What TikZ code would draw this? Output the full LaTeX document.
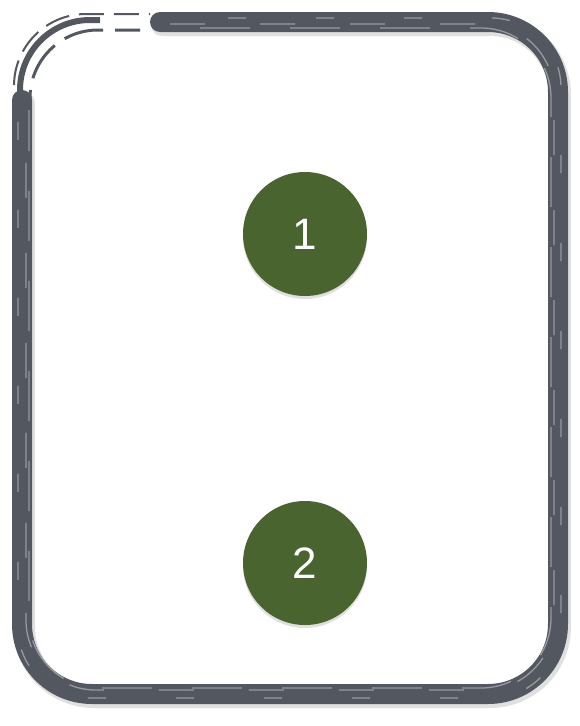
\documentclass[tikz,border=0pt]{standalone}
\usepackage{xcolor}
\usepackage{fontspec}
\setmainfont{Liberation Sans}
\usepackage{tikz}
\usetikzlibrary{shadows,positioning}

\definecolor{brushgray}{HTML}{53575F}
\definecolor{badgegreen}{HTML}{4A6430}

\begin{document}
\begin{tikzpicture}[x=1pt,y=1pt,
      brush/.style={draw=brushgray,line width=20pt,rounded corners=70pt,line cap=round},
      streak/.style={draw=white,opacity=0.4,line width=1.3pt,rounded corners=70pt},
      badge/.style={circle,fill=badgegreen,minimum size=124pt,inner sep=0pt,
        text=white,font=\fontsize{44}{44}\selectfont,
        drop shadow={shadow xshift=0pt,shadow yshift=-3pt,opacity=0.25}}
      ]
      \useasboundingbox (0,0) rectangle (580,-726);

      % frame, painted with a brush
      \draw[brush,draw=black,opacity=0.12,line width=22pt,shift={(2pt,-3pt)}]
        (160,-22) -- (558,-22) -- (558,-694) -- (22,-694) -- (22,-100);
      \draw[brush]
        (160,-22) -- (558,-22) -- (558,-694) -- (22,-694) -- (22,-100);
      \draw[draw=brushgray,line width=6pt,rounded corners=70pt]
        (20,-140) -- (20,-20) -- (100,-20);
      \draw[draw=brushgray,line width=3pt,rounded corners=68pt,dash pattern=on 40pt off 12pt]
        (30,-130) -- (30,-30) -- (140,-30);
      \draw[draw=brushgray,line width=2pt,rounded corners=72pt,dash pattern=on 25pt off 10pt]
        (14,-120) -- (14,-14) -- (150,-14);

      % dry streaks
      \draw[streak,dash pattern=on 35pt off 55pt]
        (170,-24) -- (554,-24) -- (554,-690) -- (26,-690) -- (26,-110);
      \draw[streak,dash pattern=on 18pt off 70pt,dash phase=30pt]
        (170,-18) -- (561,-18) -- (561,-698) -- (18,-698) -- (18,-110);
      \draw[streak,dash pattern=on 50pt off 40pt,dash phase=60pt]
        (170,-28) -- (551,-28) -- (551,-688) -- (29,-688) -- (29,-110);

      % numbered badges
      \node[badge] (one) at (305,-234) {1};
      \node[badge] (two) at (305,-563) {2};

    \end{tikzpicture}
\end{document}
